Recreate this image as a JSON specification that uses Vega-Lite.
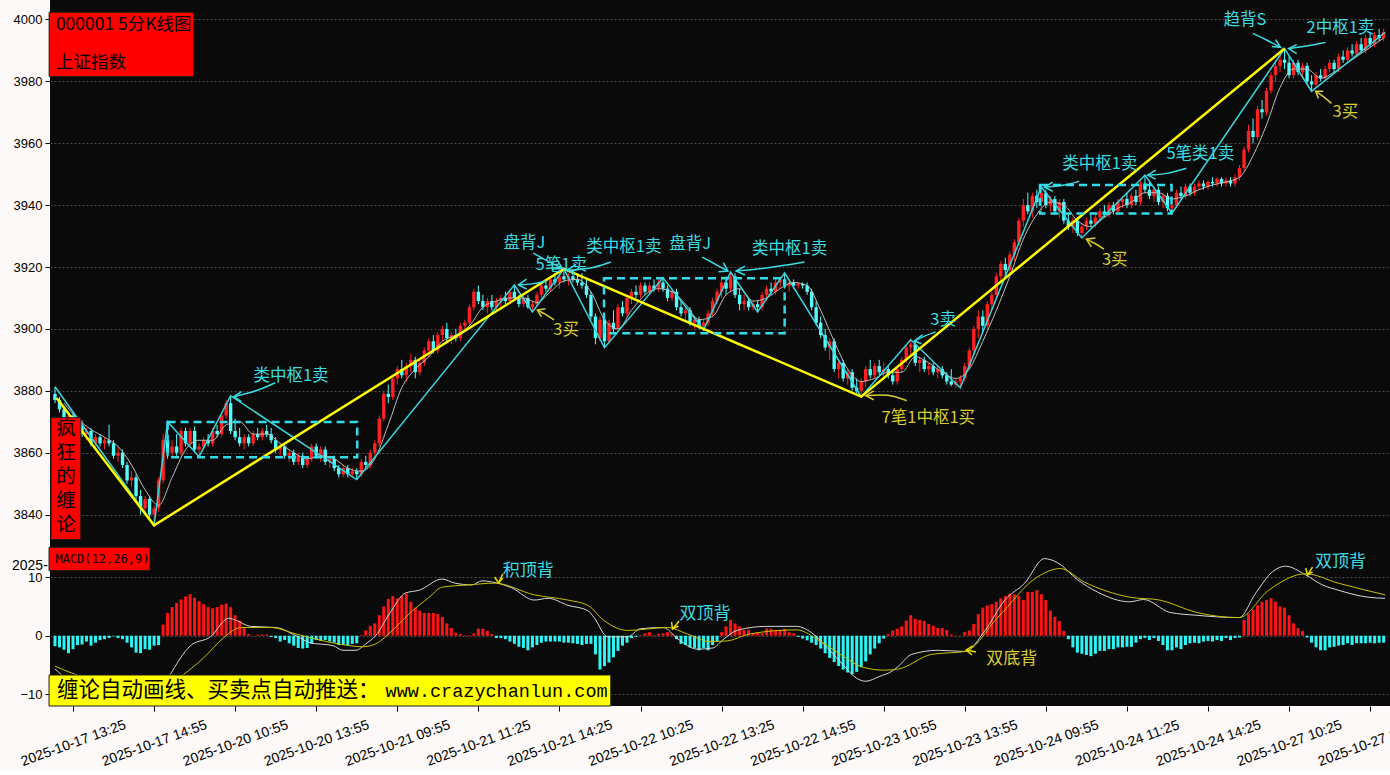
{
"$schema": "https://vega.github.io/schema/vega-lite/v6.json",
"background": "#fcf9f8",
"padding": {"left": 5, "top": 0, "right": 0, "bottom": 0},
"spacing": 0,
"config": {
  "view": {"stroke": null, "fill": "#0a0a0a"},
  "axis": {"labelFont": "Liberation Sans", "labelColor": "#000000", "tickColor": "#000000", "domain": false}
},
"datasets": {
"k": [
{"i":0,"o":3879,"h":3881.3,"l":3876,"c":3877,"m":-1.8},
{"i":1,"o":3877,"h":3878,"l":3873,"c":3874,"m":-2.0},
{"i":2,"o":3874,"h":3875,"l":3869,"c":3870,"m":-2.4},
{"i":3,"o":3870,"h":3873,"l":3868.5,"c":3872,"m":-3.0},
{"i":4,"o":3872,"h":3873,"l":3867,"c":3868,"m":-2.3},
{"i":5,"o":3868,"h":3870,"l":3866,"c":3869,"m":-1.6},
{"i":6,"o":3869,"h":3870.5,"l":3865,"c":3866,"m":-1.5},
{"i":7,"o":3866,"h":3868,"l":3864,"c":3867,"m":-1.0},
{"i":8,"o":3867,"h":3868,"l":3862,"c":3863,"m":-1.7},
{"i":9,"o":3863,"h":3866,"l":3862,"c":3865,"m":-1.2},
{"i":10,"o":3865,"h":3866,"l":3862,"c":3863,"m":-0.75},
{"i":11,"o":3863,"h":3865,"l":3861,"c":3864,"m":-0.6},
{"i":12,"o":3864,"h":3869,"l":3862,"c":3863,"m":-0.4},
{"i":13,"o":3863,"h":3864,"l":3858,"c":3859,"m":-0.1},
{"i":14,"o":3859,"h":3862,"l":3857,"c":3860,"m":-0.4},
{"i":15,"o":3860,"h":3861,"l":3855,"c":3856,"m":-0.6},
{"i":16,"o":3856,"h":3857,"l":3850,"c":3851,"m":-1.2},
{"i":17,"o":3851,"h":3854,"l":3849,"c":3852,"m":-2.0},
{"i":18,"o":3852,"h":3853,"l":3845,"c":3846,"m":-2.9},
{"i":19,"o":3846,"h":3848,"l":3840,"c":3842,"m":-3.0},
{"i":20,"o":3842,"h":3846,"l":3840,"c":3845,"m":-2.3},
{"i":21,"o":3845,"h":3846,"l":3839,"c":3840,"m":-2.4},
{"i":22,"o":3840,"h":3843,"l":3836.5,"c":3842,"m":-1.7},
{"i":23,"o":3842,"h":3852,"l":3841,"c":3851,"m":-1.6},
{"i":24,"o":3851,"h":3866,"l":3850,"c":3864,"m":1.9},
{"i":25,"o":3864,"h":3870,"l":3858,"c":3860,"m":3.9},
{"i":26,"o":3860,"h":3864,"l":3858.7,"c":3862,"m":4.9},
{"i":27,"o":3862,"h":3866,"l":3859,"c":3860,"m":5.6},
{"i":28,"o":3860,"h":3868,"l":3859,"c":3867,"m":6.2},
{"i":29,"o":3867,"h":3868,"l":3862,"c":3863,"m":6.7},
{"i":30,"o":3863,"h":3868,"l":3862,"c":3867,"m":7.1},
{"i":31,"o":3867,"h":3868.5,"l":3860,"c":3861,"m":6.5},
{"i":32,"o":3861,"h":3863,"l":3858.7,"c":3862,"m":5.9},
{"i":33,"o":3862,"h":3865,"l":3861,"c":3864,"m":5.4},
{"i":34,"o":3864,"h":3866,"l":3862,"c":3863,"m":4.9},
{"i":35,"o":3863,"h":3868,"l":3862,"c":3867,"m":4.7},
{"i":36,"o":3867,"h":3869,"l":3865,"c":3866,"m":4.9},
{"i":37,"o":3866,"h":3873,"l":3865,"c":3872,"m":5.3},
{"i":38,"o":3872,"h":3877,"l":3871,"c":3876,"m":5.5},
{"i":39,"o":3876,"h":3878.4,"l":3866,"c":3867,"m":4.9},
{"i":40,"o":3867,"h":3871,"l":3864,"c":3865,"m":3.5},
{"i":41,"o":3865,"h":3868,"l":3862,"c":3863,"m":2.6},
{"i":42,"o":3863,"h":3866,"l":3861,"c":3865,"m":1.3},
{"i":43,"o":3865,"h":3866,"l":3862,"c":3863,"m":0.3},
{"i":44,"o":3863,"h":3867,"l":3862,"c":3866,"m":0.05},
{"i":45,"o":3866,"h":3868,"l":3864,"c":3865,"m":0.15},
{"i":46,"o":3865,"h":3868,"l":3864,"c":3867,"m":0.2},
{"i":47,"o":3867,"h":3869,"l":3865,"c":3866,"m":0.2},
{"i":48,"o":3866,"h":3868,"l":3863,"c":3864,"m":-0.2},
{"i":49,"o":3864,"h":3865,"l":3860,"c":3861,"m":-0.4},
{"i":50,"o":3861,"h":3863,"l":3859,"c":3862,"m":-1.0},
{"i":51,"o":3862,"h":3863,"l":3858,"c":3859,"m":-0.75},
{"i":52,"o":3859,"h":3861,"l":3857,"c":3860,"m":-1.3},
{"i":53,"o":3860,"h":3861,"l":3856,"c":3857,"m":-1.7},
{"i":54,"o":3857,"h":3860,"l":3856,"c":3859,"m":-2.1},
{"i":55,"o":3859,"h":3860,"l":3855,"c":3856,"m":-2.2},
{"i":56,"o":3856,"h":3859,"l":3855,"c":3858,"m":-2.1},
{"i":57,"o":3858,"h":3863,"l":3857,"c":3862,"m":-1.4},
{"i":58,"o":3862,"h":3863,"l":3858,"c":3859,"m":-0.75},
{"i":59,"o":3859,"h":3862,"l":3857,"c":3861,"m":-0.9},
{"i":60,"o":3861,"h":3862,"l":3856,"c":3857,"m":-0.75},
{"i":61,"o":3857,"h":3859,"l":3855,"c":3858,"m":-1.0},
{"i":62,"o":3858,"h":3859,"l":3854,"c":3855,"m":-1.2},
{"i":63,"o":3855,"h":3856,"l":3852,"c":3853,"m":-1.6},
{"i":64,"o":3853,"h":3856,"l":3852,"c":3855,"m":-1.6},
{"i":65,"o":3855,"h":3856,"l":3852,"c":3853,"m":-1.6},
{"i":66,"o":3853,"h":3855,"l":3852,"c":3854,"m":-1.4},
{"i":67,"o":3854,"h":3855,"l":3851.3,"c":3853,"m":-1.3},
{"i":68,"o":3853,"h":3858,"l":3852,"c":3857,"m":0.1},
{"i":69,"o":3857,"h":3859,"l":3855,"c":3856,"m":0.9},
{"i":70,"o":3856,"h":3861,"l":3855,"c":3860,"m":1.7},
{"i":71,"o":3860,"h":3864,"l":3859,"c":3863,"m":2.1},
{"i":72,"o":3863,"h":3872,"l":3862,"c":3871,"m":3.5},
{"i":73,"o":3871,"h":3880,"l":3870,"c":3879,"m":5.0},
{"i":74,"o":3879,"h":3882,"l":3876,"c":3878,"m":6.3},
{"i":75,"o":3878,"h":3885,"l":3877,"c":3884,"m":6.8},
{"i":76,"o":3884,"h":3888,"l":3882,"c":3887,"m":6.4},
{"i":77,"o":3887,"h":3890,"l":3884,"c":3885,"m":6.8},
{"i":78,"o":3885,"h":3889,"l":3883,"c":3888,"m":7.2},
{"i":79,"o":3888,"h":3892,"l":3886,"c":3890,"m":5.8},
{"i":80,"o":3890,"h":3891,"l":3884,"c":3886,"m":4.8},
{"i":81,"o":3886,"h":3890,"l":3885,"c":3889,"m":4.3},
{"i":82,"o":3889,"h":3894,"l":3888,"c":3893,"m":3.9},
{"i":83,"o":3893,"h":3897,"l":3891,"c":3896,"m":3.9},
{"i":84,"o":3896,"h":3898,"l":3892,"c":3893,"m":3.9},
{"i":85,"o":3893,"h":3899,"l":3892,"c":3898,"m":3.7},
{"i":86,"o":3898,"h":3901,"l":3896,"c":3900,"m":3.2},
{"i":87,"o":3900,"h":3902,"l":3896,"c":3897,"m":2.1},
{"i":88,"o":3897,"h":3899,"l":3895,"c":3898,"m":1.3},
{"i":89,"o":3898,"h":3900,"l":3896,"c":3897,"m":0.5},
{"i":90,"o":3897,"h":3902,"l":3896,"c":3901,"m":0.3},
{"i":91,"o":3901,"h":3903,"l":3899,"c":3902,"m":0.1},
{"i":92,"o":3902,"h":3908,"l":3901,"c":3907,"m":0.1},
{"i":93,"o":3907,"h":3913,"l":3906,"c":3912,"m":0.4},
{"i":94,"o":3912,"h":3914,"l":3908,"c":3909,"m":1.2},
{"i":95,"o":3909,"h":3911,"l":3906,"c":3907,"m":1.2},
{"i":96,"o":3907,"h":3910,"l":3905,"c":3909,"m":0.8},
{"i":97,"o":3909,"h":3911,"l":3906,"c":3907,"m":0.3},
{"i":98,"o":3907,"h":3910,"l":3906,"c":3909,"m":-0.4},
{"i":99,"o":3909,"h":3911,"l":3907,"c":3910,"m":-0.4},
{"i":100,"o":3910,"h":3912,"l":3908,"c":3909,"m":-0.6},
{"i":101,"o":3909,"h":3913,"l":3908,"c":3912,"m":-1.0},
{"i":102,"o":3912,"h":3914.2,"l":3909,"c":3910,"m":-1.4},
{"i":103,"o":3910,"h":3911,"l":3907,"c":3908,"m":-1.9},
{"i":104,"o":3908,"h":3911,"l":3907,"c":3910,"m":-2.1},
{"i":105,"o":3910,"h":3911,"l":3906.5,"c":3907,"m":-2.5},
{"i":106,"o":3907,"h":3909,"l":3905.5,"c":3908,"m":-2.0},
{"i":107,"o":3908,"h":3912,"l":3907,"c":3911,"m":-1.6},
{"i":108,"o":3911,"h":3915,"l":3910,"c":3914,"m":-1.2},
{"i":109,"o":3914,"h":3916,"l":3912,"c":3913,"m":-1.0},
{"i":110,"o":3913,"h":3917,"l":3912,"c":3916,"m":-1.0},
{"i":111,"o":3916,"h":3918,"l":3914,"c":3915,"m":-1.0},
{"i":112,"o":3915,"h":3918,"l":3913,"c":3917,"m":-1.0},
{"i":113,"o":3917,"h":3919.4,"l":3915,"c":3916,"m":-1.2},
{"i":114,"o":3916,"h":3918,"l":3914,"c":3917,"m":-1.2},
{"i":115,"o":3917,"h":3919,"l":3915,"c":3916,"m":-1.3},
{"i":116,"o":3916,"h":3918,"l":3914,"c":3915,"m":-1.4},
{"i":117,"o":3915,"h":3918,"l":3913,"c":3914,"m":-1.6},
{"i":118,"o":3914,"h":3916,"l":3910,"c":3911,"m":-1.4},
{"i":119,"o":3911,"h":3912,"l":3903,"c":3904,"m":-1.4},
{"i":120,"o":3904,"h":3905,"l":3895,"c":3897,"m":-3.2},
{"i":121,"o":3897,"h":3904,"l":3896,"c":3903,"m":-5.8},
{"i":122,"o":3903,"h":3904,"l":3893.9,"c":3896,"m":-5.2},
{"i":123,"o":3896,"h":3903,"l":3895,"c":3902,"m":-4.6},
{"i":124,"o":3902,"h":3906,"l":3899,"c":3900,"m":-3.7},
{"i":125,"o":3900,"h":3908,"l":3899,"c":3907,"m":-2.6},
{"i":126,"o":3907,"h":3909,"l":3904,"c":3905,"m":-1.7},
{"i":127,"o":3905,"h":3911,"l":3904,"c":3910,"m":-1.2},
{"i":128,"o":3910,"h":3913,"l":3908,"c":3912,"m":-0.4},
{"i":129,"o":3912,"h":3914,"l":3910,"c":3911,"m":-0.2},
{"i":130,"o":3911,"h":3915,"l":3910,"c":3914,"m":0.1},
{"i":131,"o":3914,"h":3915,"l":3911,"c":3912,"m":0.4},
{"i":132,"o":3912,"h":3915,"l":3911,"c":3914,"m":0.6},
{"i":133,"o":3914,"h":3916,"l":3912,"c":3913,"m":0.1},
{"i":134,"o":3913,"h":3916,"l":3912,"c":3915,"m":0.3},
{"i":135,"o":3915,"h":3916.5,"l":3912,"c":3913,"m":0.4},
{"i":136,"o":3913,"h":3914,"l":3909,"c":3910,"m":0.6},
{"i":137,"o":3910,"h":3913,"l":3909,"c":3912,"m":0.3},
{"i":138,"o":3912,"h":3913,"l":3906,"c":3907,"m":-0.6},
{"i":139,"o":3907,"h":3909,"l":3904,"c":3905,"m":-1.4},
{"i":140,"o":3905,"h":3907,"l":3903,"c":3906,"m":-1.6},
{"i":141,"o":3906,"h":3907,"l":3901,"c":3902,"m":-2.0},
{"i":142,"o":3902,"h":3904,"l":3900,"c":3903,"m":-2.1},
{"i":143,"o":3903,"h":3904,"l":3900,"c":3901,"m":-2.5},
{"i":144,"o":3901,"h":3903,"l":3899.7,"c":3902,"m":-2.1},
{"i":145,"o":3902,"h":3906,"l":3901,"c":3905,"m":-2.5},
{"i":146,"o":3905,"h":3910,"l":3904,"c":3909,"m":-1.6},
{"i":147,"o":3909,"h":3913,"l":3908,"c":3912,"m":-1.0},
{"i":148,"o":3912,"h":3916,"l":3910,"c":3915,"m":0.6},
{"i":149,"o":3915,"h":3917,"l":3911,"c":3913,"m":1.6},
{"i":150,"o":3913,"h":3918.4,"l":3912,"c":3917,"m":2.7},
{"i":151,"o":3917,"h":3918,"l":3910,"c":3911,"m":2.1},
{"i":152,"o":3911,"h":3913,"l":3906,"c":3908,"m":1.6},
{"i":153,"o":3908,"h":3911,"l":3906,"c":3909,"m":1.0},
{"i":154,"o":3909,"h":3910,"l":3906,"c":3907,"m":1.0},
{"i":155,"o":3907,"h":3909,"l":3906,"c":3908,"m":0.4},
{"i":156,"o":3908,"h":3909,"l":3905.5,"c":3907,"m":0.6},
{"i":157,"o":3907,"h":3912,"l":3906,"c":3911,"m":0.4},
{"i":158,"o":3911,"h":3914,"l":3909,"c":3913,"m":1.2},
{"i":159,"o":3913,"h":3915,"l":3911,"c":3912,"m":1.2},
{"i":160,"o":3912,"h":3916,"l":3911,"c":3915,"m":1.0},
{"i":161,"o":3915,"h":3917,"l":3913,"c":3916,"m":1.0},
{"i":162,"o":3916,"h":3918.1,"l":3913,"c":3914,"m":1.2},
{"i":163,"o":3914,"h":3916,"l":3912,"c":3915,"m":0.6},
{"i":164,"o":3915,"h":3916,"l":3913,"c":3914,"m":0.4},
{"i":165,"o":3914,"h":3915,"l":3913,"c":3914.5,"m":-0.2},
{"i":166,"o":3914.5,"h":3915,"l":3913,"c":3914,"m":-0.5},
{"i":167,"o":3914,"h":3915,"l":3911,"c":3912,"m":-0.8},
{"i":168,"o":3912,"h":3913,"l":3906,"c":3907,"m":-1.2},
{"i":169,"o":3907,"h":3909,"l":3901,"c":3902,"m":-1.6},
{"i":170,"o":3902,"h":3904,"l":3897,"c":3898,"m":-2.2},
{"i":171,"o":3898,"h":3900,"l":3893,"c":3894,"m":-3.0},
{"i":172,"o":3894,"h":3897,"l":3890,"c":3896,"m":-3.8},
{"i":173,"o":3896,"h":3897,"l":3886,"c":3887,"m":-4.5},
{"i":174,"o":3887,"h":3890,"l":3884,"c":3889,"m":-5.2},
{"i":175,"o":3889,"h":3890,"l":3883,"c":3884,"m":-5.8},
{"i":176,"o":3884,"h":3887,"l":3882,"c":3886,"m":-6.3},
{"i":177,"o":3886,"h":3887,"l":3880,"c":3881,"m":-6.6},
{"i":178,"o":3881,"h":3884,"l":3879,"c":3880,"m":-6.2},
{"i":179,"o":3880,"h":3884,"l":3878.1,"c":3883,"m":-5.4},
{"i":180,"o":3883,"h":3888,"l":3881,"c":3887,"m":-4.4},
{"i":181,"o":3887,"h":3890,"l":3884,"c":3885,"m":-3.2},
{"i":182,"o":3885,"h":3889,"l":3884,"c":3888,"m":-2.2},
{"i":183,"o":3888,"h":3890,"l":3885,"c":3886,"m":-1.3},
{"i":184,"o":3886,"h":3889,"l":3884,"c":3887,"m":-0.5},
{"i":185,"o":3887,"h":3888,"l":3884,"c":3885,"m":0.3},
{"i":186,"o":3885,"h":3887,"l":3882,"c":3883,"m":0.9},
{"i":187,"o":3883,"h":3888,"l":3882,"c":3887,"m":1.2},
{"i":188,"o":3887,"h":3891,"l":3886,"c":3890,"m":1.6},
{"i":189,"o":3890,"h":3895,"l":3889,"c":3894,"m":2.6},
{"i":190,"o":3894,"h":3896.5,"l":3891,"c":3895,"m":3.5},
{"i":191,"o":3895,"h":3896,"l":3888,"c":3889,"m":2.9},
{"i":192,"o":3889,"h":3891,"l":3886,"c":3890,"m":2.7},
{"i":193,"o":3890,"h":3891,"l":3886,"c":3887,"m":2.5},
{"i":194,"o":3887,"h":3889,"l":3885,"c":3888,"m":2.0},
{"i":195,"o":3888,"h":3889,"l":3885,"c":3886,"m":1.7},
{"i":196,"o":3886,"h":3888,"l":3884,"c":3887,"m":1.3},
{"i":197,"o":3887,"h":3888,"l":3884,"c":3885,"m":1.3},
{"i":198,"o":3885,"h":3886,"l":3882,"c":3883,"m":1.0},
{"i":199,"o":3883,"h":3887,"l":3881.5,"c":3882,"m":0.2},
{"i":200,"o":3882,"h":3884,"l":3881,"c":3883,"m":0.05},
{"i":201,"o":3883,"h":3885,"l":3881,"c":3884,"m":0.05},
{"i":202,"o":3884,"h":3889,"l":3883,"c":3888,"m":0.6},
{"i":203,"o":3888,"h":3894,"l":3887,"c":3893,"m":0.9},
{"i":204,"o":3893,"h":3901,"l":3892,"c":3900,"m":2.0},
{"i":205,"o":3900,"h":3906,"l":3897,"c":3904,"m":3.7},
{"i":206,"o":3904,"h":3906,"l":3899,"c":3901,"m":4.8},
{"i":207,"o":3901,"h":3909,"l":3900,"c":3908,"m":5.2},
{"i":208,"o":3908,"h":3912,"l":3906,"c":3911,"m":5.4},
{"i":209,"o":3911,"h":3918,"l":3910,"c":3917,"m":5.8},
{"i":210,"o":3917,"h":3922,"l":3915,"c":3921,"m":6.4},
{"i":211,"o":3921,"h":3923,"l":3917,"c":3919,"m":6.8},
{"i":212,"o":3919,"h":3925,"l":3918,"c":3924,"m":7.2},
{"i":213,"o":3924,"h":3929,"l":3922,"c":3928,"m":7.1},
{"i":214,"o":3928,"h":3936,"l":3927,"c":3935,"m":6.8},
{"i":215,"o":3935,"h":3942,"l":3933,"c":3940,"m":6.1},
{"i":216,"o":3940,"h":3944,"l":3937,"c":3938,"m":7.5},
{"i":217,"o":3938,"h":3944,"l":3936,"c":3943,"m":7.5},
{"i":218,"o":3943,"h":3945,"l":3939,"c":3941,"m":7.8},
{"i":219,"o":3941,"h":3945.8,"l":3938,"c":3944,"m":7.1},
{"i":220,"o":3944,"h":3945,"l":3939,"c":3940,"m":6.1},
{"i":221,"o":3940,"h":3943,"l":3938,"c":3942,"m":4.3},
{"i":222,"o":3942,"h":3943,"l":3937,"c":3938,"m":3.2},
{"i":223,"o":3938,"h":3942,"l":3936,"c":3941,"m":2.5},
{"i":224,"o":3941,"h":3942,"l":3934,"c":3935,"m":0.8},
{"i":225,"o":3935,"h":3937,"l":3932,"c":3933,"m":-0.6},
{"i":226,"o":3933,"h":3936,"l":3931,"c":3935,"m":-2.0},
{"i":227,"o":3935,"h":3936,"l":3930,"c":3931,"m":-2.9},
{"i":228,"o":3931,"h":3934,"l":3929.4,"c":3933,"m":-3.1},
{"i":229,"o":3933,"h":3936,"l":3932,"c":3935,"m":-3.3},
{"i":230,"o":3935,"h":3937,"l":3933,"c":3934,"m":-3.5},
{"i":231,"o":3934,"h":3937,"l":3933,"c":3936,"m":-3.1},
{"i":232,"o":3936,"h":3939,"l":3935,"c":3938,"m":-2.6},
{"i":233,"o":3938,"h":3940,"l":3936,"c":3937,"m":-2.6},
{"i":234,"o":3937,"h":3941,"l":3936,"c":3940,"m":-2.3},
{"i":235,"o":3940,"h":3941,"l":3937,"c":3938,"m":-2.3},
{"i":236,"o":3938,"h":3942,"l":3937,"c":3941,"m":-2.0},
{"i":237,"o":3941,"h":3943,"l":3939,"c":3942,"m":-2.0},
{"i":238,"o":3942,"h":3944,"l":3939,"c":3940,"m":-1.9},
{"i":239,"o":3940,"h":3944,"l":3939,"c":3943,"m":-1.9},
{"i":240,"o":3943,"h":3945,"l":3940,"c":3941,"m":-1.2},
{"i":241,"o":3941,"h":3948,"l":3940,"c":3947,"m":-0.6},
{"i":242,"o":3947,"h":3949.7,"l":3944,"c":3945,"m":-0.4},
{"i":243,"o":3945,"h":3948,"l":3942,"c":3943,"m":-0.75},
{"i":244,"o":3943,"h":3946,"l":3941,"c":3945,"m":-0.4},
{"i":245,"o":3945,"h":3946,"l":3940,"c":3941,"m":-0.9},
{"i":246,"o":3941,"h":3944,"l":3939,"c":3943,"m":-1.6},
{"i":247,"o":3943,"h":3944,"l":3938,"c":3939,"m":-2.5},
{"i":248,"o":3939,"h":3941,"l":3937.4,"c":3940,"m":-2.5},
{"i":249,"o":3940,"h":3945,"l":3939,"c":3944,"m":-2.0},
{"i":250,"o":3944,"h":3946,"l":3942,"c":3943,"m":-2.3},
{"i":251,"o":3943,"h":3947,"l":3942,"c":3946,"m":-1.6},
{"i":252,"o":3946,"h":3947,"l":3943,"c":3944,"m":-1.3},
{"i":253,"o":3944,"h":3947,"l":3943,"c":3946,"m":-1.2},
{"i":254,"o":3946,"h":3948,"l":3945,"c":3947,"m":-1.3},
{"i":255,"o":3947,"h":3948,"l":3945,"c":3946,"m":-1.0},
{"i":256,"o":3946,"h":3948,"l":3945,"c":3947.5,"m":-0.9},
{"i":257,"o":3947.5,"h":3949,"l":3946,"c":3947,"m":-1.0},
{"i":258,"o":3947,"h":3949,"l":3946,"c":3948.5,"m":-0.75},
{"i":259,"o":3948.5,"h":3949,"l":3946,"c":3947,"m":-0.9},
{"i":260,"o":3947,"h":3949,"l":3946,"c":3948,"m":-0.4},
{"i":261,"o":3948,"h":3949,"l":3946,"c":3947,"m":-0.75},
{"i":262,"o":3947,"h":3950,"l":3946,"c":3949,"m":-0.4},
{"i":263,"o":3949,"h":3953,"l":3948,"c":3952,"m":-0.3},
{"i":264,"o":3952,"h":3959,"l":3951,"c":3958,"m":2.7},
{"i":265,"o":3958,"h":3966,"l":3957,"c":3964,"m":3.8},
{"i":266,"o":3964,"h":3968,"l":3960,"c":3962,"m":4.5},
{"i":267,"o":3962,"h":3972,"l":3961,"c":3971,"m":5.2},
{"i":268,"o":3971,"h":3974,"l":3968,"c":3970,"m":5.8},
{"i":269,"o":3970,"h":3978,"l":3969,"c":3977,"m":6.1},
{"i":270,"o":3977,"h":3983,"l":3976,"c":3982,"m":6.4},
{"i":271,"o":3982,"h":3987,"l":3980,"c":3985,"m":5.8},
{"i":272,"o":3985,"h":3989,"l":3983,"c":3987,"m":5.0},
{"i":273,"o":3987,"h":3990.6,"l":3984,"c":3986,"m":4.8},
{"i":274,"o":3986,"h":3988,"l":3981,"c":3982,"m":3.5},
{"i":275,"o":3982,"h":3987,"l":3981,"c":3986,"m":2.1},
{"i":276,"o":3986,"h":3987,"l":3982,"c":3983,"m":1.3},
{"i":277,"o":3983,"h":3986,"l":3981,"c":3985,"m":0.8},
{"i":278,"o":3985,"h":3986,"l":3979,"c":3980,"m":-0.3},
{"i":279,"o":3980,"h":3982,"l":3976.8,"c":3979,"m":-1.2},
{"i":280,"o":3979,"h":3983,"l":3978,"c":3982,"m":-2.0},
{"i":281,"o":3982,"h":3984,"l":3980,"c":3981,"m":-2.5},
{"i":282,"o":3981,"h":3985,"l":3980,"c":3984,"m":-2.5},
{"i":283,"o":3984,"h":3987,"l":3983,"c":3986,"m":-2.0},
{"i":284,"o":3986,"h":3987,"l":3983,"c":3984,"m":-1.9},
{"i":285,"o":3984,"h":3989,"l":3983,"c":3988,"m":-1.7},
{"i":286,"o":3988,"h":3990,"l":3986,"c":3987,"m":-1.6},
{"i":287,"o":3987,"h":3991,"l":3986,"c":3990,"m":-1.3},
{"i":288,"o":3990,"h":3992,"l":3988,"c":3989,"m":-1.6},
{"i":289,"o":3989,"h":3993,"l":3988,"c":3992,"m":-1.3},
{"i":290,"o":3992,"h":3994,"l":3989,"c":3990,"m":-1.3},
{"i":291,"o":3990,"h":3995,"l":3989,"c":3994,"m":-1.3},
{"i":292,"o":3994,"h":3996,"l":3991,"c":3992,"m":-1.2},
{"i":293,"o":3992,"h":3996,"l":3991,"c":3995,"m":-1.3},
{"i":294,"o":3995,"h":3997,"l":3993,"c":3994,"m":-1.2},
{"i":295,"o":3994,"h":3997,"l":3993,"c":3996,"m":-1.2}
],
"ma": [
{"i":2,"p":3876},{"i":5,"p":3871},{"i":8,"p":3867.5},{"i":11,"p":3865},{"i":14,"p":3862},{"i":17,"p":3856},{"i":20,"p":3848},{"i":23,"p":3843},{"i":26,"p":3852},{"i":29,"p":3861},{"i":32,"p":3864},{"i":35,"p":3864},{"i":38,"p":3869},{"i":41,"p":3870},{"i":44,"p":3866},{"i":47,"p":3866},{"i":50,"p":3863},{"i":53,"p":3860},{"i":56,"p":3858},{"i":59,"p":3859},{"i":62,"p":3858},{"i":65,"p":3855},{"i":68,"p":3854},{"i":71,"p":3858},{"i":74,"p":3869},{"i":77,"p":3881},{"i":80,"p":3887},{"i":83,"p":3891},{"i":86,"p":3896},{"i":89,"p":3898},{"i":92,"p":3901},{"i":95,"p":3907},{"i":98,"p":3909},{"i":101,"p":3910},{"i":104,"p":3910},{"i":107,"p":3908.5},{"i":110,"p":3912},{"i":113,"p":3915.5},{"i":116,"p":3916},{"i":119,"p":3912},{"i":122,"p":3903},{"i":125,"p":3900},{"i":128,"p":3906},{"i":131,"p":3911},{"i":134,"p":3913},{"i":137,"p":3912},{"i":140,"p":3908},{"i":143,"p":3903},{"i":146,"p":3904},{"i":149,"p":3911},{"i":152,"p":3913},{"i":155,"p":3909},{"i":158,"p":3910},{"i":161,"p":3913},{"i":164,"p":3915},{"i":167,"p":3914},{"i":170,"p":3906},{"i":173,"p":3896},{"i":176,"p":3887},{"i":179,"p":3883},{"i":182,"p":3884},{"i":185,"p":3886},{"i":188,"p":3886},{"i":191,"p":3891},{"i":194,"p":3889},{"i":197,"p":3886},{"i":200,"p":3884},{"i":203,"p":3887},{"i":206,"p":3896},{"i":209,"p":3906},{"i":212,"p":3917},{"i":215,"p":3929},{"i":218,"p":3937},{"i":221,"p":3941},{"i":224,"p":3940},{"i":227,"p":3935},{"i":230,"p":3933},{"i":233,"p":3936},{"i":236,"p":3939},{"i":239,"p":3941},{"i":242,"p":3944},{"i":245,"p":3944},{"i":248,"p":3942},{"i":251,"p":3943},{"i":254,"p":3945},{"i":257,"p":3946.5},{"i":260,"p":3947.5},{"i":263,"p":3949},{"i":266,"p":3956},{"i":269,"p":3966},{"i":272,"p":3978},{"i":275,"p":3984},{"i":278,"p":3984},{"i":281,"p":3981},{"i":284,"p":3983},{"i":287,"p":3986},{"i":290,"p":3989},{"i":293,"p":3992},{"i":295,"p":3994}
],
"bi": [
{"i":0,"p":3881.3},{"i":22,"p":3836.5},{"i":25,"p":3870},{"i":32,"p":3858.7},{"i":39,"p":3878.4},{"i":67,"p":3851.3},{"i":102,"p":3914.2},{"i":106,"p":3905.5},{"i":113,"p":3919.4},{"i":122,"p":3893.9},{"i":135,"p":3916.5},{"i":144,"p":3899.7},{"i":150,"p":3918.4},{"i":156,"p":3905.5},{"i":162,"p":3918.1},{"i":179,"p":3878.1},{"i":190,"p":3896.5},{"i":201,"p":3881},{"i":219,"p":3945.8},{"i":228,"p":3929.4},{"i":242,"p":3949.7},{"i":248,"p":3937.4},{"i":273,"p":3990.6},{"i":279,"p":3976.8},{"i":295.3,"p":3995.8}
],
"seg": [
{"i":0.4,"p":3877.6},{"i":22,"p":3836.5},{"i":113,"p":3919.4},{"i":179,"p":3878.1},{"i":273,"p":3990.6}
],
"zs": [
{"i":25,"i2":67.1,"p":3869.9,"p2":3858.5},
{"i":121.9,"i2":162,"p":3916.4,"p2":3898.6},
{"i":218.7,"i2":247.9,"p":3946.5,"p2":3937.3}
],
"ta": [
{"i":52.4,"p":3884.8,"t":"类中枢1卖","k":"c"},
{"i":104.2,"p":3927.7,"t":"盘背J","k":"c"},
{"i":112.4,"p":3920.6,"t":"5笔1卖","k":"c"},
{"i":126.3,"p":3926.5,"t":"类中枢1卖","k":"c"},
{"i":141.0,"p":3927.4,"t":"盘背J","k":"c"},
{"i":163.1,"p":3925.8,"t":"类中枢1卖","k":"c"},
{"i":197.2,"p":3902.9,"t":"3卖","k":"c"},
{"i":193.9,"p":3871.3,"t":"7笔1中枢1买","k":"y"},
{"i":232.0,"p":3953.2,"t":"类中枢1卖","k":"c"},
{"i":254.3,"p":3956.5,"t":"5笔类1卖","k":"c"},
{"i":235.3,"p":3922.3,"t":"3买","k":"y"},
{"i":113.5,"p":3899.7,"t":"3买","k":"y"},
{"i":264.2,"p":3999.7,"t":"趋背S","k":"c"},
{"i":285.4,"p":3997.1,"t":"2中枢1卖","k":"c"},
{"i":286.5,"p":3970.0,"t":"3买","k":"y"}
],
"at": [
{"a":"1","n":0,"i":48.9,"p":3882.6,"k":"c"},{"a":"1","n":1,"i":44.5,"p":3879.7,"k":"c"},{"a":"1","n":2,"i":39.7,"p":3878.1,"k":"c"},
{"a":"2","n":0,"i":106.2,"p":3924.5,"k":"c"},{"a":"2","n":1,"i":109.7,"p":3921.6,"k":"c"},{"a":"2","n":2,"i":112.6,"p":3919.7,"k":"c"},
{"a":"3","n":0,"i":109.1,"p":3915.5,"k":"c"},{"a":"3","n":1,"i":105.8,"p":3914.4,"k":"c"},{"a":"3","n":2,"i":102.9,"p":3914.2,"k":"c"},
{"a":"4","n":0,"i":123.4,"p":3921.6,"k":"c"},{"a":"4","n":1,"i":118.6,"p":3919.2,"k":"c"},{"a":"4","n":2,"i":113.7,"p":3919.0,"k":"c"},
{"a":"5","n":0,"i":143.7,"p":3923.2,"k":"c"},{"a":"5","n":1,"i":147.0,"p":3920.6,"k":"c"},{"a":"5","n":2,"i":149.4,"p":3918.7,"k":"c"},
{"a":"6","n":0,"i":166.4,"p":3921.6,"k":"c"},{"a":"6","n":1,"i":158.7,"p":3919.7,"k":"c"},{"a":"6","n":2,"i":151.2,"p":3918.7,"k":"c"},
{"a":"7","n":0,"i":195.5,"p":3899.0,"k":"c"},{"a":"7","n":1,"i":193.0,"p":3897.7,"k":"c"},{"a":"7","n":2,"i":190.8,"p":3896.1,"k":"c"},
{"a":"8","n":0,"i":189.1,"p":3876.8,"k":"y"},{"a":"8","n":1,"i":185.1,"p":3879.0,"k":"y"},{"a":"8","n":2,"i":180.0,"p":3878.4,"k":"y"},
{"a":"9","n":0,"i":227.4,"p":3947.7,"k":"c"},{"a":"9","n":1,"i":223.4,"p":3946.1,"k":"c"},{"a":"9","n":2,"i":219.7,"p":3945.8,"k":"c"},
{"a":"10","n":0,"i":251.2,"p":3951.9,"k":"c"},{"a":"10","n":1,"i":246.8,"p":3950.0,"k":"c"},{"a":"10","n":2,"i":242.6,"p":3949.7,"k":"c"},
{"a":"11","n":0,"i":232.9,"p":3925.8,"k":"y"},{"a":"11","n":1,"i":230.9,"p":3927.7,"k":"y"},{"a":"11","n":2,"i":229.0,"p":3929.0,"k":"y"},
{"a":"12","n":0,"i":110.8,"p":3902.9,"k":"y"},{"a":"12","n":1,"i":108.9,"p":3904.8,"k":"y"},{"a":"12","n":2,"i":107.1,"p":3906.1,"k":"y"},
{"a":"13","n":0,"i":266.0,"p":3995.5,"k":"c"},{"a":"13","n":1,"i":269.3,"p":3993.2,"k":"c"},{"a":"13","n":2,"i":272.1,"p":3991.0,"k":"c"},
{"a":"14","n":0,"i":282.1,"p":3992.6,"k":"c"},{"a":"14","n":1,"i":277.9,"p":3991.3,"k":"c"},{"a":"14","n":2,"i":273.9,"p":3990.6,"k":"c"},
{"a":"15","n":0,"i":283.4,"p":3972.9,"k":"y"},{"a":"15","n":1,"i":281.6,"p":3975.2,"k":"y"},{"a":"15","n":2,"i":279.9,"p":3976.8,"k":"y"}
],
"ah": [
{"a":"1","n":0,"i":41.4,"p":3879.7,"k":"c"},{"a":"1","n":1,"i":39.7,"p":3878.1,"k":"c"},{"a":"1","n":2,"i":41.4,"p":3876.5,"k":"c"},
{"a":"2","n":0,"i":110.5,"p":3919.3,"k":"c"},{"a":"2","n":1,"i":112.6,"p":3919.7,"k":"c"},{"a":"2","n":2,"i":111.5,"p":3922.2,"k":"c"},
{"a":"3","n":0,"i":104.7,"p":3916.1,"k":"c"},{"a":"3","n":1,"i":102.9,"p":3914.2,"k":"c"},{"a":"3","n":2,"i":104.7,"p":3912.9,"k":"c"},
{"a":"4","n":0,"i":115.5,"p":3920.6,"k":"c"},{"a":"4","n":1,"i":113.7,"p":3919.0,"k":"c"},{"a":"4","n":2,"i":115.5,"p":3917.7,"k":"c"},
{"a":"5","n":0,"i":147.3,"p":3918.5,"k":"c"},{"a":"5","n":1,"i":149.4,"p":3918.7,"k":"c"},{"a":"5","n":2,"i":148.4,"p":3921.4,"k":"c"},
{"a":"6","n":0,"i":153.2,"p":3920.3,"k":"c"},{"a":"6","n":1,"i":151.2,"p":3918.7,"k":"c"},{"a":"6","n":2,"i":153.2,"p":3917.4,"k":"c"},
{"a":"7","n":0,"i":192.6,"p":3898.1,"k":"c"},{"a":"7","n":1,"i":190.8,"p":3896.1,"k":"c"},{"a":"7","n":2,"i":192.4,"p":3895.2,"k":"c"},
{"a":"8","n":0,"i":181.8,"p":3880.0,"k":"y"},{"a":"8","n":1,"i":180.0,"p":3878.4,"k":"y"},{"a":"8","n":2,"i":181.8,"p":3877.1,"k":"y"},
{"a":"9","n":0,"i":221.5,"p":3947.4,"k":"c"},{"a":"9","n":1,"i":219.7,"p":3945.8,"k":"c"},{"a":"9","n":2,"i":221.5,"p":3944.5,"k":"c"},
{"a":"10","n":0,"i":244.4,"p":3951.3,"k":"c"},{"a":"10","n":1,"i":242.6,"p":3949.7,"k":"c"},{"a":"10","n":2,"i":244.4,"p":3948.4,"k":"c"},
{"a":"11","n":0,"i":230.1,"p":3926.5,"k":"y"},{"a":"11","n":1,"i":229.0,"p":3929.0,"k":"y"},{"a":"11","n":2,"i":231.0,"p":3929.4,"k":"y"},
{"a":"12","n":0,"i":108.9,"p":3906.5,"k":"y"},{"a":"12","n":1,"i":107.1,"p":3906.1,"k":"y"},{"a":"12","n":2,"i":108.0,"p":3903.9,"k":"y"},
{"a":"13","n":0,"i":270.2,"p":3991.3,"k":"c"},{"a":"13","n":1,"i":272.1,"p":3991.0,"k":"c"},{"a":"13","n":2,"i":271.0,"p":3993.5,"k":"c"},
{"a":"14","n":0,"i":275.7,"p":3991.9,"k":"c"},{"a":"14","n":1,"i":273.9,"p":3990.6,"k":"c"},{"a":"14","n":2,"i":275.7,"p":3989.0,"k":"c"},
{"a":"15","n":0,"i":281.6,"p":3976.8,"k":"y"},{"a":"15","n":1,"i":279.9,"p":3976.8,"k":"y"},{"a":"15","n":2,"i":280.5,"p":3974.5,"k":"y"}
],
"dif": [
{"i":0,"v":-5.7},{"i":3,"v":-7.6},{"i":8,"v":-9.2},{"i":14,"v":-9.5},{"i":19,"v":-11},{"i":23,"v":-10},{"i":25.3,"v":-7.0},{"i":30.1,"v":-1.7},{"i":34.5,"v":-0.2},{"i":38.6,"v":3.0},{"i":40.3,"v":2.6},{"i":43.4,"v":1.6},{"i":49.1,"v":1.4},{"i":53.5,"v":0},{"i":56.6,"v":-1.2},{"i":61.7,"v":-1.7},{"i":63.9,"v":-2.5},{"i":66.8,"v":-2.5},{"i":69,"v":-1.4},{"i":71.2,"v":0},{"i":74.3,"v":3.8},{"i":77.8,"v":7.3},{"i":80.9,"v":7.8},{"i":85.9,"v":9.7},{"i":88.8,"v":9.0},{"i":92.6,"v":8.7},{"i":94.8,"v":9.4},{"i":97,"v":9.2},{"i":101.4,"v":8.2},{"i":106.4,"v":6.1},{"i":109.5,"v":6.4},{"i":113.9,"v":5.2},{"i":118.3,"v":4.3},{"i":119.7,"v":3.1},{"i":122.7,"v":-0.2},{"i":127.1,"v":-0.2},{"i":130,"v":1.2},{"i":135.1,"v":1.4},{"i":138.2,"v":-0.5},{"i":142.6,"v":-2.3},{"i":146.1,"v":-2.1},{"i":148.3,"v":-0.7},{"i":151.4,"v":0.9},{"i":158,"v":1.6},{"i":164.6,"v":1.6},{"i":168,"v":0.5},{"i":172,"v":-2.5},{"i":175,"v":-5},{"i":178,"v":-7.3},{"i":180,"v":-7.8},{"i":183,"v":-7},{"i":186,"v":-6},{"i":187.3,"v":-5.2},{"i":190.2,"v":-3.2},{"i":196.1,"v":-2.5},{"i":202.1,"v":-2.7},{"i":206.5,"v":0.9},{"i":210.9,"v":6.1},{"i":215.3,"v":9.0},{"i":219.7,"v":13.2},{"i":222.6,"v":12.5},{"i":227,"v":9.6},{"i":231.4,"v":7.5},{"i":238.6,"v":5.8},{"i":241.7,"v":6.2},{"i":247.5,"v":4.0},{"i":253.4,"v":3.5},{"i":262.9,"v":3.1},{"i":266.6,"v":7.3},{"i":270.4,"v":11.0},{"i":273.2,"v":11.9},{"i":277.7,"v":10.4},{"i":281.4,"v":8.7},{"i":284.9,"v":7.8},{"i":291.5,"v":6.6},{"i":295.3,"v":6.4}
],
"dea": [
{"i":0,"v":-5.2},{"i":4.4,"v":-6.6},{"i":10,"v":-7.8},{"i":16,"v":-8.5},{"i":22,"v":-9},{"i":26,"v":-8},{"i":28.6,"v":-6.6},{"i":33,"v":-3.8},{"i":37.5,"v":-0.3},{"i":41.2,"v":1.4},{"i":47.8,"v":1.4},{"i":53.5,"v":0.3},{"i":58,"v":-0.6},{"i":65.4,"v":-1.7},{"i":68.3,"v":-1.9},{"i":71.2,"v":-1.4},{"i":74.9,"v":0.9},{"i":78.7,"v":3.8},{"i":83.1,"v":6.6},{"i":85.9,"v":8.3},{"i":91.9,"v":8.7},{"i":97.6,"v":9.0},{"i":106.4,"v":7.0},{"i":113.9,"v":6.1},{"i":118.3,"v":5.2},{"i":121.9,"v":2.6},{"i":127.1,"v":0.9},{"i":136,"v":1.4},{"i":140.4,"v":0.3},{"i":145.4,"v":-1.0},{"i":149.2,"v":-0.9},{"i":154.3,"v":0.3},{"i":164.6,"v":1.0},{"i":170,"v":-1.0},{"i":175,"v":-3.5},{"i":179,"v":-5.3},{"i":184,"v":-5.9},{"i":187.3,"v":-5.7},{"i":194.6,"v":-3.2},{"i":202.1,"v":-2.7},{"i":209.3,"v":3.1},{"i":218.2,"v":10.1},{"i":223.2,"v":11.5},{"i":228.5,"v":9.2},{"i":238.6,"v":6.6},{"i":245.3,"v":6.1},{"i":253.4,"v":4.0},{"i":262.9,"v":3.1},{"i":269.5,"v":7.8},{"i":277.7,"v":10.6},{"i":284.9,"v":9.0},{"i":295.3,"v":7.0}
],
"mta": [
{"i":105.1,"v":11.08,"t":"积顶背","k":"c"},
{"i":144.3,"v":3.71,"t":"双顶背","k":"c"},
{"i":212.4,"v":-3.99,"t":"双底背","k":"y"},
{"i":285.4,"v":12.62,"t":"双顶背","k":"c"}
],
"mar": [
{"a":"1","n":0,"i":99.4,"v":10.57},{"a":"1","n":1,"i":98.5,"v":9.02},
{"a":"1h","n":0,"i":97.6,"v":10.05},{"a":"1h","n":1,"i":98.5,"v":9.02},{"a":"1h","n":2,"i":99.4,"v":9.88},
{"a":"2","n":0,"i":138.6,"v":2.52},{"a":"2","n":1,"i":137.1,"v":1.15},
{"a":"2h","n":0,"i":136.9,"v":2.35},{"a":"2h","n":1,"i":137.1,"v":1.15},{"a":"2h","n":2,"i":138.4,"v":1.66},
{"a":"3","n":0,"i":204.5,"v":-2.79},{"a":"3","n":1,"i":202.3,"v":-2.45},
{"a":"3h","n":0,"i":203.8,"v":-1.76},{"a":"3h","n":1,"i":202.3,"v":-2.45},{"a":"3h","n":2,"i":203.6,"v":-3.3},
{"a":"4","n":0,"i":279.2,"v":11.76},{"a":"4","n":1,"i":278.1,"v":10.39},
{"a":"4h","n":0,"i":277.7,"v":11.59},{"a":"4h","n":1,"i":278.1,"v":10.39},{"a":"4h","n":2,"i":279.2,"v":10.91}
]
},
"vconcat": [
{
  "width": 1340,
  "height": 546,
  "encoding": {
    "x": {"field": "i", "type": "quantitative", "scale": {"domain": [0, 295.3], "nice": false, "zero": false}, "axis": null},
    "y": {"field": "p", "type": "quantitative", "scale": {"domain": [3829.83, 4006.3], "nice": false, "zero": false}, "title": null,
          "axis": {"values": [3840, 3860, 3880, 3900, 3920, 3940, 3960, 3980, 4000], "format": "d", "grid": true, "gridColor": "#4a4a4a", "gridDash": [2, 2], "gridWidth": 1, "tickSize": 5, "labelPadding": 3, "labelFontSize": 13, "minExtent": 45, "maxExtent": 45, "title": null}}
  },
  "layer": [
    {"data": {"name": "k"}, "mark": {"type": "rule", "strokeWidth": 1, "clip": true},
     "encoding": {"y": {"field": "l", "type": "quantitative", "title": null, "axis": {"values": [3840, 3860, 3880, 3900, 3920, 3940, 3960, 3980, 4000], "format": "d", "grid": true, "gridColor": "#4a4a4a", "gridDash": [2, 2], "gridWidth": 1, "tickSize": 5, "labelPadding": 3, "labelFontSize": 13, "minExtent": 45, "maxExtent": 45, "title": null}},
                  "y2": {"field": "h"},
                  "color": {"condition": {"test": "datum.c >= datum.o", "value": "#ff2020"}, "value": "#54fcfc"}}},
    {"data": {"name": "k"}, "mark": {"type": "bar", "width": 3.4, "clip": true},
     "encoding": {"y": {"field": "o", "type": "quantitative", "title": null, "axis": {"values": [3840, 3860, 3880, 3900, 3920, 3940, 3960, 3980, 4000], "format": "d", "grid": true, "gridColor": "#4a4a4a", "gridDash": [2, 2], "gridWidth": 1, "tickSize": 5, "labelPadding": 3, "labelFontSize": 13, "minExtent": 45, "maxExtent": 45, "title": null}},
                  "y2": {"field": "c"},
                  "color": {"condition": {"test": "datum.c >= datum.o", "value": "#ff2020"}, "value": "#54fcfc"}}},
    {"data": {"name": "ma"}, "mark": {"type": "line", "color": "#bdbdbd", "strokeWidth": 1, "interpolate": "monotone"}, "encoding": {}},
    {"data": {"name": "bi"}, "mark": {"type": "line", "color": "#3ad6e0", "strokeWidth": 1.5}, "encoding": {}},
    {"data": {"name": "seg"}, "mark": {"type": "line", "color": "#ffff00", "strokeWidth": 2.5}, "encoding": {}},
    {"data": {"name": "zs"}, "mark": {"type": "rect", "fillOpacity": 0, "stroke": "#33dcea", "strokeWidth": 2.5, "strokeDash": [8, 5]},
     "encoding": {"x2": {"field": "i2"}, "y2": {"field": "p2"}}},
    {"data": {"name": "at"}, "mark": {"type": "line", "strokeWidth": 1.5, "interpolate": "basis"},
     "encoding": {"detail": {"field": "a"}, "order": {"field": "n"},
                  "color": {"field": "k", "type": "nominal", "scale": {"domain": ["c", "y"], "range": ["#3cdce4", "#d8cc30"]}, "legend": null}}},
    {"data": {"name": "ah"}, "mark": {"type": "line", "strokeWidth": 1.5},
     "encoding": {"detail": {"field": "a"}, "order": {"field": "n"},
                  "color": {"field": "k", "type": "nominal", "scale": {"domain": ["c", "y"], "range": ["#3cdce4", "#d8cc30"]}, "legend": null}}},
    {"data": {"name": "ta"}, "mark": {"type": "text", "font": "Noto Sans CJK SC", "fontSize": 16.5},
     "encoding": {"text": {"field": "t"},
                  "color": {"field": "k", "type": "nominal", "scale": {"domain": ["c", "y"], "range": ["#3cdce4", "#d8cc30"]}, "legend": null}}},
    {"data": {"values": [{"i": -1.3, "i2": 30.85, "p": 4002.35, "p2": 3981.6}, {"i": -0.88, "i2": 5.73, "p": 3871.3, "p2": 3831.9}]},
     "mark": {"type": "rect", "fill": "#ff0000", "stroke": "#1a1a1a", "strokeWidth": 1},
     "encoding": {"x2": {"field": "i2"}, "y2": {"field": "p2"}}},
    {"data": {"values": [{"i": 0.2, "p": 3998.1, "t": "000001 5分K线图"}, {"i": 0.2, "p": 3985.8, "t": "上证指数"}]},
     "mark": {"type": "text", "align": "left", "font": "Noto Sans CJK SC", "fontSize": 17.5, "color": "#000000"},
     "encoding": {"text": {"field": "t"}}},
    {"data": {"values": [{"i": 2.42, "p": 3870.4}]},
     "mark": {"type": "text", "baseline": "top", "font": "Noto Sans CJK SC", "fontSize": 19.5, "lineHeight": 24, "color": "#000000", "text": ["疯", "狂", "的", "缠", "论"]},
     "encoding": {}}
  ]
},
{
  "width": 1340,
  "height": 160,
  "encoding": {
    "x": {"field": "i", "type": "quantitative", "scale": {"domain": [0, 295.3], "nice": false, "zero": false}, "title": null,
          "axis": {"values": [4, 22, 40, 58, 76, 94, 112, 130, 148, 166, 184, 202, 220, 238, 256, 274, 292],
                   "labelExpr": "['2025-10-17 13:25','2025-10-17 14:55','2025-10-20 10:55','2025-10-20 13:55','2025-10-21 09:55','2025-10-21 11:25','2025-10-21 14:25','2025-10-22 10:25','2025-10-22 13:25','2025-10-22 14:55','2025-10-23 10:55','2025-10-23 13:55','2025-10-24 09:55','2025-10-24 11:25','2025-10-24 14:25','2025-10-27 10:25','2025-10-27 13:25'][round((datum.value - 4) / 18)]",
                   "labelAngle": -20, "labelAlign": "center", "labelBaseline": "middle", "labelPadding": 32, "tickSize": 5,
                   "labelFontSize": 14, "labelOverlap": false, "labelFlush": false, "labelBound": false, "grid": false, "title": null}},
    "y": {"field": "v", "type": "quantitative", "scale": {"domain": [-12.04, 15.36], "nice": false, "zero": false}, "title": null,
          "axis": {"values": [-10, 0, 10], "grid": true, "gridColor": "#4a4a4a", "gridDash": [2, 2], "gridWidth": 1, "tickSize": 5, "labelPadding": 3, "labelFontSize": 13, "minExtent": 45, "maxExtent": 45, "title": null}}
  },
  "layer": [
    {"data": {"name": "k"}, "mark": {"type": "bar", "width": 3, "clip": true},
     "encoding": {"y": {"field": "m", "type": "quantitative", "title": null, "axis": {"values": [-10, 0, 10], "grid": true, "gridColor": "#4a4a4a", "gridDash": [2, 2], "gridWidth": 1, "tickSize": 5, "labelPadding": 3, "labelFontSize": 13, "minExtent": 45, "maxExtent": 45, "title": null}},
                  "y2": {"datum": 0},
                  "color": {"condition": {"test": "datum.m >= 0", "value": "#ff1414"}, "value": "#2ef5f5"}}},
    {"data": {"name": "dif"}, "mark": {"type": "line", "color": "#d6d6d6", "strokeWidth": 1, "interpolate": "monotone", "clip": true}, "encoding": {}},
    {"data": {"name": "dea"}, "mark": {"type": "line", "color": "#c8c000", "strokeWidth": 1, "interpolate": "monotone", "clip": true}, "encoding": {}},
    {"data": {"name": "mar"}, "mark": {"type": "line", "color": "#e8dc00", "strokeWidth": 1.5},
     "encoding": {"detail": {"field": "a"}, "order": {"field": "n"}}},
    {"data": {"name": "mta"}, "mark": {"type": "text", "font": "Noto Sans CJK SC", "fontSize": 17},
     "encoding": {"text": {"field": "t"},
                  "color": {"field": "k", "type": "nominal", "scale": {"domain": ["c", "y"], "range": ["#3cdce4", "#d8cc30"]}, "legend": null}}},
    {"data": {"values": [{"i": -1.32, "i2": 21.1, "v": 15.15, "v2": 11.14}]},
     "mark": {"type": "rect", "fill": "#ff0000", "stroke": "#1a1a1a", "strokeWidth": 1},
     "encoding": {"x2": {"field": "i2"}, "y2": {"field": "v2"}}},
    {"data": {"values": [{"i": 0.1, "v": 13.13, "t": "MACD(12,26,9)"}]},
     "mark": {"type": "text", "align": "left", "font": "DejaVu Sans Mono", "fontSize": 12, "color": "#000000"},
     "encoding": {"text": {"field": "t"}}},
    {"data": {"values": [{"i": -1.6, "v": 11.9, "t": "2025-"}]},
     "mark": {"type": "text", "align": "right", "font": "Liberation Sans", "fontSize": 14, "color": "#000000"},
     "encoding": {"text": {"field": "t"}}},
    {"data": {"values": [{"i": -1.32, "i2": 123.4, "v": -6.73, "v2": -12.04}]},
     "mark": {"type": "rect", "fill": "#ffff00", "stroke": "#1a1a1a", "strokeWidth": 1},
     "encoding": {"x2": {"field": "i2"}, "y2": {"field": "v2"}}},
    {"data": {"values": [{"i": 0.44, "v": -9.4, "t": "缠论自动画线、买卖点自动推送："}]},
     "mark": {"type": "text", "align": "left", "font": "Noto Sans CJK SC", "fontSize": 21.5, "color": "#000000"},
     "encoding": {"text": {"field": "t"}}},
    {"data": {"values": [{"i": 73.4, "v": -9.4, "t": "www.crazychanlun.com"}]},
     "mark": {"type": "text", "align": "left", "font": "Liberation Mono", "fontSize": 18.5, "color": "#000000"},
     "encoding": {"text": {"field": "t"}}}
  ]
}
]
}
